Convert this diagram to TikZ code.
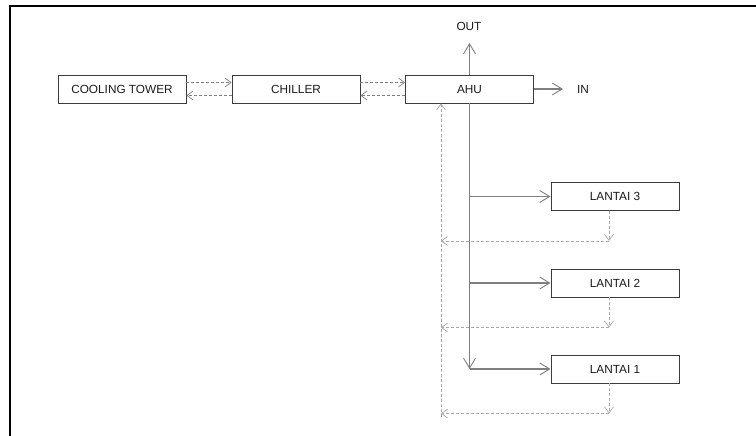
\documentclass[tikz,border=0pt]{standalone}
\usepackage{fontspec}
\setmainfont{Liberation Sans}
\usepackage{xcolor}
\usetikzlibrary{arrows.meta}
\definecolor{boxline}{HTML}{3C3C3C}
\definecolor{feedgray}{HTML}{7F7F7F}
\definecolor{retgray}{HTML}{A8A8A8}
\definecolor{txt}{HTML}{1A1A1A}

\begin{document}
\begin{tikzpicture}[x=1pt,y=-1pt,>={Straight Barb[length=10pt,width=12pt,line width=0.9pt]},
 font=\fontsize{11.8}{13}\selectfont,
 unit/.style={draw=boxline,line width=0.9pt,minimum width=128pt,minimum height=28pt,inner sep=0pt,text=txt},
 feed/.style={draw=feedgray,line width=1.2pt},
 ret/.style={draw=retgray,line width=0.8pt,densely dashed},
 retarrow/.style={ret,-{Straight Barb[length=6pt,width=9pt,line width=0.7pt]}}]
 \useasboundingbox (0,0) rectangle (756,436);
 \draw[line width=2pt] (10,436) -- (10,6) -- (756,6);
 % units on the water side
 \node[unit] (ct) at (122,89) {COOLING TOWER};
 \node[unit] (ch) at (296,89) {CHILLER};
 \node[unit] (ahu) at (469.5,89) {AHU};
 \node[text=txt] (out) at (469,26) {OUT};
 \node[text=txt] (in) at (583,89) {IN};
 \coordinate (outtip) at (469,43);
 \coordinate (intip) at (563,89);
 % floors
 \node[unit] (l3) at (615,196.5) {LANTAI 3};
 \node[unit] (l2) at (615,283) {LANTAI 2};
 \node[unit] (l1) at (615,369) {LANTAI 1};
 % loops between the units
 \draw[retarrow,draw=feedgray] ([yshift=6.5pt]ct.east) -- ([yshift=6.5pt]ch.west);
 \draw[retarrow,draw=feedgray] ([yshift=-6.5pt]ch.west) -- ([yshift=-6.5pt]ct.east);
 \draw[retarrow,draw=feedgray] ([yshift=6.5pt]ch.east) -- ([yshift=6.5pt]ahu.west);
 \draw[retarrow,draw=feedgray] ([yshift=-6.5pt]ahu.west) -- ([yshift=-6.5pt]ch.east);
 \draw[feed,->] (ahu.north |- outtip) ++(0,32) -- (ahu.north |- outtip);
 \draw[feed,->] (ahu.east) -- (intip);
 % supply air down to the floors
 \coordinate (j1) at (ahu.south |- l1.west);
 \draw[feed,->] (ahu.south) -- (j1);
 \draw[feed,->] (ahu.south |- l3.west) -- (l3.west);
 \draw[feed,->] (ahu.south |- l2.west) -- (l2.west);
 \draw[feed,->] (j1) -- (l1.west);
 % return air back to the AHU
 \coordinate (rb) at (441,417);
 \draw[retarrow] (rb) -- (rb |- ahu.south);
 \draw[retarrow] ([xshift=-6pt]l3.south) -- ++(0,30) coordinate (d3);
 \draw[retarrow] (d3) -- (d3 -| rb);
 \draw[retarrow] ([xshift=-6pt]l2.south) -- ++(0,30) coordinate (d2);
 \draw[retarrow] (d2) -- (d2 -| rb);
 \draw[retarrow] ([xshift=-6pt]l1.south) -- ++(0,30) coordinate (d1);
 \draw[retarrow] (d1) -- (d1 -| rb);
\end{tikzpicture}
\end{document}
